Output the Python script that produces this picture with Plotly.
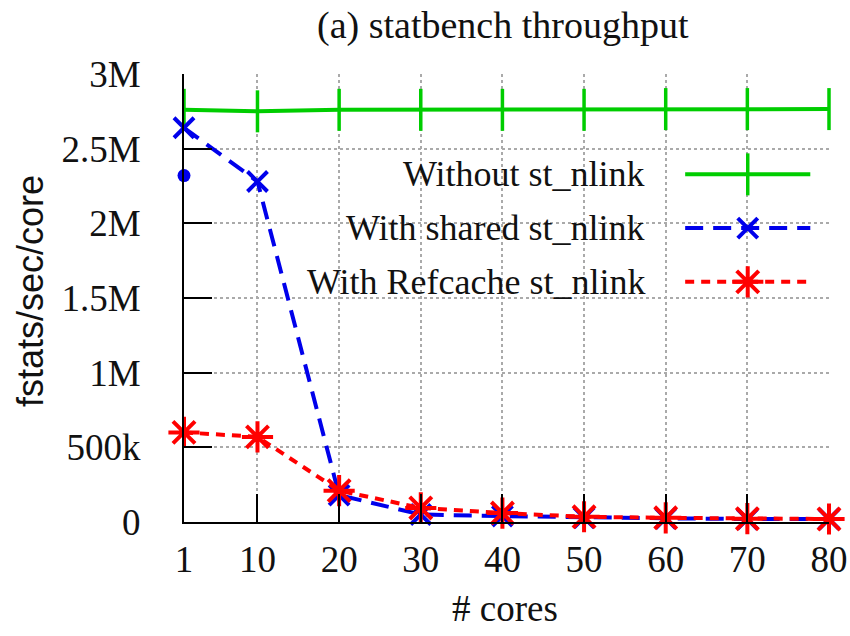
import plotly.graph_objects as go

cores = [1, 10, 20, 30, 40, 50, 60, 70, 80]
without_nlink = [2.76e6, 2.75e6, 2.76e6, 2.76e6, 2.76e6, 2.76e6, 2.765e6, 2.765e6, 2.765e6]
shared_nlink = [2.64e6, 2.28e6, 0.18e6, 0.05e6, 0.04e6, 0.03e6, 0.025e6, 0.02e6, 0.02e6]
refcache_nlink = [0.60e6, 0.57e6, 0.21e6, 0.094e6, 0.06e6, 0.035e6, 0.028e6, 0.022e6, 0.02e6]
extra_point_x = [1]
extra_point_y = [2.32e6]

series_names = ["Without st_nlink", "With shared st_nlink", "With Refcache st_nlink"]
y_tickvals = [0, 0.5e6, 1e6, 1.5e6, 2e6, 2.5e6, 3e6]
y_ticktext = ["0", "500k", "1M", "1.5M", "2M", "2.5M", "3M"]

GREEN = "rgb(0,205,0)"
BLUE = "rgb(0,0,235)"
RED = "rgb(255,0,0)"
SERIF = "Liberation Serif"

fig = go.Figure()

fig.add_trace(go.Scatter(
    x=cores, y=without_nlink, mode="lines+markers", name=series_names[0],
    line=dict(color=GREEN, width=4),
    marker=dict(symbol="line-ns", size=30, line=dict(color=GREEN, width=3.5)),
    cliponaxis=False, showlegend=False))
fig.add_trace(go.Scatter(
    x=cores, y=shared_nlink, mode="lines+markers", name=series_names[1],
    line=dict(color=BLUE, width=4, dash="18px,10px"),
    marker=dict(symbol="x-thin", size=20, line=dict(color=BLUE, width=4)),
    cliponaxis=False, showlegend=False))
fig.add_trace(go.Scatter(
    x=cores, y=refcache_nlink, mode="lines+markers", name=series_names[2],
    line=dict(color=RED, width=4, dash="9px,7px"),
    marker=dict(symbol="asterisk-open", size=26, line=dict(color=RED, width=4)),
    cliponaxis=False, showlegend=False))
fig.add_trace(go.Scatter(
    x=extra_point_x, y=extra_point_y, mode="markers",
    marker=dict(symbol="circle", size=13, color=BLUE),
    cliponaxis=False, showlegend=False))

# Manual legend (symbols to the right of the text, gnuplot style) on an overlay axis
legend_rows_y = [0.776, 0.656, 0.536]
legend_styles = [
    (GREEN, None, "line-ns", 30, 3.5),
    (BLUE, "18px,10px", "x-thin", 20, 4),
    (RED, "9px,7px", "asterisk-open", 26, 4),
]
for (color, dash, sym, size, lw), yy, name in zip(legend_styles, legend_rows_y, series_names):
    ld = dict(color=color, width=4)
    if dash:
        ld["dash"] = dash
    fig.add_trace(go.Scatter(
        x=[0.777, 0.971], y=[yy, yy], mode="lines", line=ld,
        xaxis="x2", yaxis="y2", showlegend=False, hoverinfo="skip"))
    fig.add_trace(go.Scatter(
        x=[0.874], y=[yy], mode="markers",
        marker=dict(symbol=sym, size=size, color=color, line=dict(color=color, width=lw)),
        xaxis="x2", yaxis="y2", showlegend=False, hoverinfo="skip"))
    fig.add_annotation(text=name, xref="paper", yref="paper", x=0.718, y=yy,
                       xanchor="right", yanchor="middle", showarrow=False,
                       font=dict(family=SERIF, size=36, color="#111"))

axis_common = dict(
    showline=True, linecolor="black", linewidth=2,
    ticks="inside", ticklen=28, tickwidth=2, tickcolor="black",
    showgrid=True, gridcolor="#aaaaaa", gridwidth=1.5, griddash="dot",
    zeroline=False, mirror=False, automargin=False, ticklabeloverflow="allow",
    tickfont=dict(family=SERIF, size=37, color="#111"),
)

fig.update_layout(
    width=850, height=636,
    margin=dict(l=184, r=21, t=74, b=114),
    paper_bgcolor="white", plot_bgcolor="white",
    showlegend=False,
    xaxis=dict(range=[1, 80], tickvals=cores, ticktext=[str(c) for c in cores],
               ticklabelstandoff=4, **axis_common),
    yaxis=dict(range=[0, 3e6], tickvals=y_tickvals, ticktext=y_ticktext,
               ticklabelstandoff=34, **axis_common),
    xaxis2=dict(overlaying="x", range=[0, 1], visible=False),
    yaxis2=dict(overlaying="y", range=[0, 1], visible=False),
)

fig.add_annotation(text="(a) statbench throughput", xref="paper", yref="paper",
                   x=0.495, y=(522 - 25) / 448, xanchor="center", yanchor="middle",
                   showarrow=False, font=dict(family=SERIF, size=38, color="#111"))
fig.add_annotation(text="# cores", xref="paper", yref="paper",
                   x=0.498, y=(522 - 608) / 448, xanchor="center", yanchor="middle",
                   showarrow=False, font=dict(family=SERIF, size=37, color="#111"))
fig.add_annotation(text="fstats/sec/core", xref="paper", yref="paper",
                   x=(30 - 184) / 645, y=(522 - 291) / 448, xanchor="center", yanchor="middle",
                   textangle=-90, showarrow=False,
                   font=dict(family="Liberation Sans", size=36, color="#111"))

# Remove the browser's default 8px body margin so the figure fills the window exactly.
fig.write_html("out.html", config={"displayModeBar": False},
               post_script="document.body.style.margin='0';")
